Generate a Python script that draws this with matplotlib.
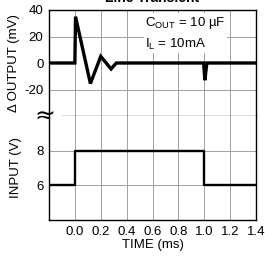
import matplotlib
matplotlib.use("Agg")
import matplotlib.pyplot as plt

plt.rcParams['font.family'] = ['Liberation Sans', 'DejaVu Sans']

# output deviation (mV) vs time (ms)
out_t = [-0.2, 0.0, 0.005, 0.12, 0.20, 0.28, 0.32, 0.995, 1.005, 1.02, 1.4]
out_mv = [0, 0, 35, -15.5, 5, -4.5, 0, 0, -13, 0, 0]

# input step (V) vs time (ms)
in_t = [-0.2, 0.0, 0.0, 1.0, 1.0, 1.4]
in_v = [6, 6, 8, 8, 6, 6]

xticks = [0.0, 0.2, 0.4, 0.6, 0.8, 1.0, 1.2, 1.4]
xticklabels = ["0.0", "0.2", "0.4", "0.6", "0.8", "1.0", "1.2", "1.4"]

fig = plt.figure(figsize=(2.65, 2.61), dpi=100)
ax1 = fig.add_axes([49/265, 1-116/261, 207/265, 106/261])
ax2 = fig.add_axes([49/265, 1-220/261, 207/265, 104/261])

grid_kw = dict(color='#a0a0a0', linewidth=0.7)

for ax in (ax1, ax2):
    ax.set_xlim(-0.2, 1.4)
    ax.set_xticks(xticks)
    ax.tick_params(length=0, labelsize=9.5, pad=4)
    for x in xticks:
        ax.axvline(x, zorder=0, **grid_kw)
    for s in ax.spines.values():
        s.set_linewidth(1.0)

# top panel
ax1.plot(out_t, out_mv, color='black', linewidth=2.4, solid_joinstyle='miter')
ax1.set_ylim(-40, 40)
ax1.set_yticks([40, 20, 0, -20])
ax1.set_yticklabels(["40", "20", "0", "-20"])
for y in [20, -20]:
    ax1.axhline(y, zorder=0, **grid_kw)
ax1.set_xticklabels([])
ax1.spines['bottom'].set_visible(False)
ax1.axhline(-40, xmin=13/207, xmax=1, color='black', linewidth=0.9)
ax1.set_ylabel("Δ OUTPUT (mV)", fontsize=9.5, labelpad=3)
ax1.text(0.465, 0.78, "C$_{\\mathregular{OUT}}$ = 10 µF\nI$_{\\mathregular{L}}$ = 10mA",
         transform=ax1.transAxes, fontsize=9.5, va='center', ha='left', linespacing=1.5,
         bbox=dict(facecolor='white', edgecolor='none', pad=1))
ax1.text(-0.018, -0.01, "≈", transform=ax1.transAxes, fontsize=18, ha='center', va='center',
         family='DejaVu Sans', clip_on=False)
ax1.set_title("Line Transient", fontsize=10, fontweight='bold', pad=6)

# bottom panel
ax2.plot(in_t, in_v, color='black', linewidth=1.7)
ax2.set_ylim(4, 10)
ax2.set_yticks([8, 6])
ax2.set_yticklabels(["8", "6"])
for y in [8, 6]:
    ax2.axhline(y, zorder=0, **grid_kw)
ax2.spines['top'].set_visible(False)
ax2.set_xticklabels(xticklabels)
ax2.set_xlabel("TIME (ms)", fontsize=9.5, labelpad=1)
ax2.set_ylabel("INPUT (V)", fontsize=9.5, labelpad=10)

fig.align_ylabels([ax1, ax2])
fig.savefig("out.png", dpi=100)
